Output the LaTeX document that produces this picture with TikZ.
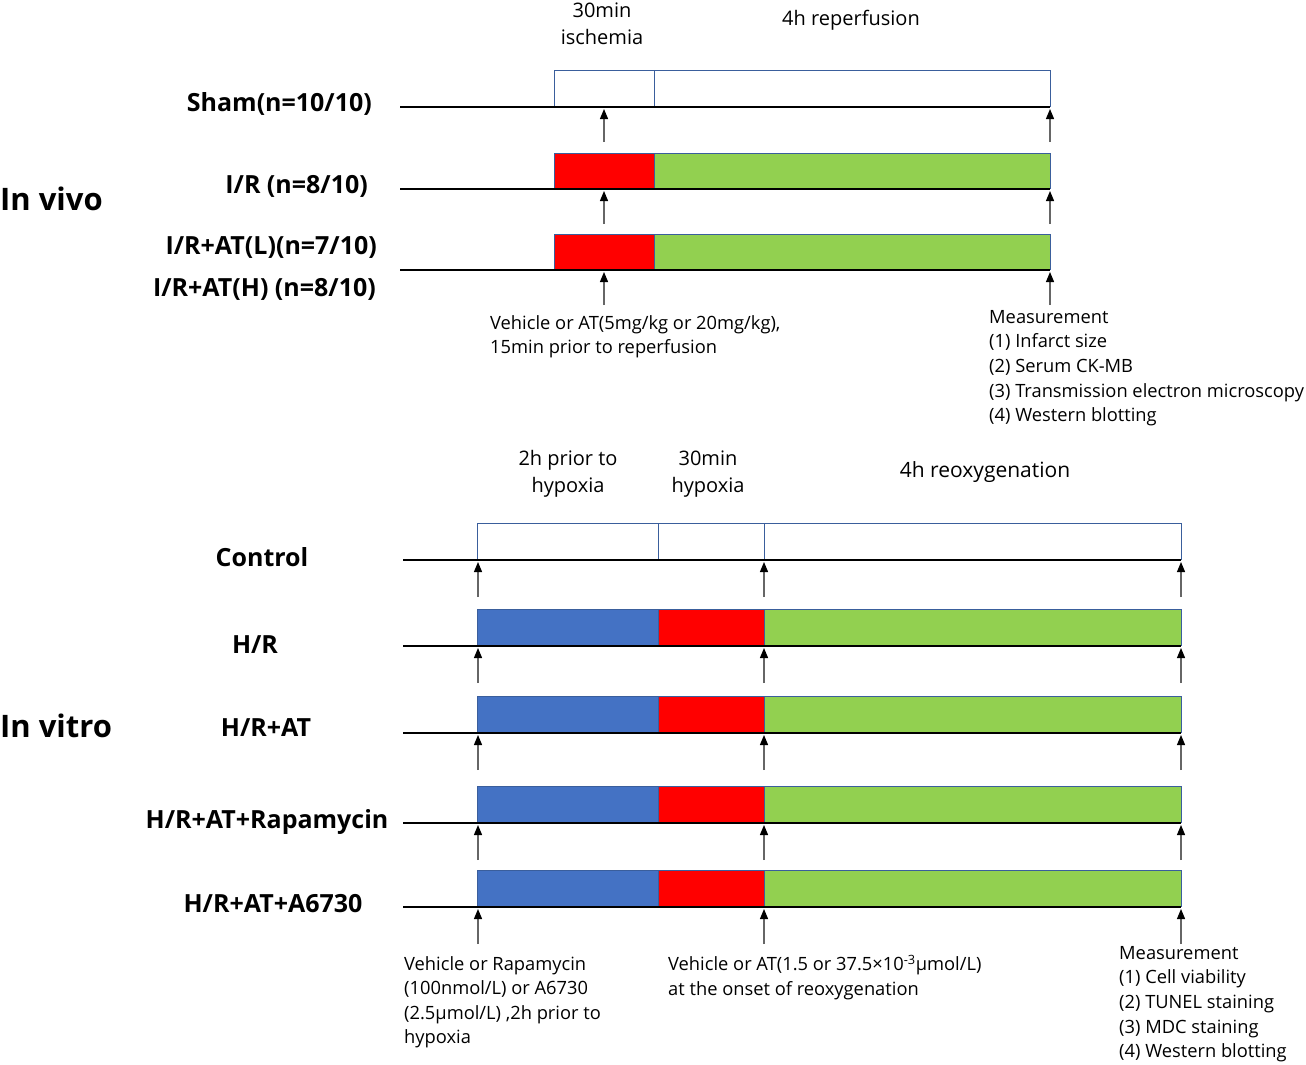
\documentclass[tikz,border=0pt]{standalone}
\usepackage{fontspec}
\setmainfont{Open Sans}
\usetikzlibrary{arrows.meta}
\definecolor{isch}{HTML}{FF0000}
\definecolor{reperf}{HTML}{92D050}
\definecolor{pretreat}{HTML}{4472C4}
\definecolor{edgeblue}{HTML}{3A5E9C}
\begin{document}
\begin{tikzpicture}[x=1pt, y=-1pt,
		axis/.style={line width=2.6pt},
		seg/.style={draw=edgeblue, line width=1pt},
		cue/.style={draw=black!60, line width=1.2pt, -{Triangle[length=10pt, width=8pt, color=black]}},
		grp/.style={font=\fontsize{25}{28}\selectfont\bfseries, inner sep=0pt},
		part/.style={font=\fontsize{31}{36}\selectfont\bfseries, inner sep=0pt, anchor=west},
		phase/.style={font=\fontsize{20}{27}\selectfont, align=center, inner sep=0pt},
		note/.style={font=\fontsize{18.3}{24.6}\selectfont, align=left, inner sep=0pt, anchor=north west}]
	\useasboundingbox (0,0) rectangle (1306,1065);
	% in vivo
	\node[part] (vivo) at (0,199) {In vivo};
	\node[phase] (isc) at (602,24) {30min\\ischemia};
	\node[phase] (rep) at (851,20) {4h reperfusion};
	\foreach \y/\a/\b [count=\i] in {107/white/white, 189/isch/reperf, 270/isch/reperf} {
		\draw[seg, fill=\a] (554,\y-36) rectangle (654,\y-1);
		\draw[seg, fill=\b] (654,\y-36) rectangle (1050,\y-1);
		\draw[axis] (400,\y) -- (1050,\y);
		\coordinate (da\i) at (604,\y+35); \coordinate (db\i) at (604,\y+2);
		\coordinate (ma\i) at (1050,\y+35); \coordinate (mb\i) at (1050,\y+2);
		\draw[cue] (da\i) -- (db\i);
		\draw[cue] (ma\i) -- (mb\i);
	}
	\node[grp, anchor=east] (sham) at (372,104) {Sham(n=10/10)};
	\node[grp, anchor=east] (ir) at (368,186) {I/R (n=8/10)};
	\node[grp, anchor=east] (irl) at (377,247) {I/R+AT(L)(n=7/10)};
	\node[grp, anchor=east] (irh) at (376,289) {I/R+AT(H) (n=8/10)};
	\node[note] (dose) at (490,315) {Vehicle or AT(5mg/kg or 20mg/kg),\\15min prior to reperfusion};
	\node[note] (meas) at (989,310) {Measurement\\(1) Infarct size\\(2) Serum CK-MB\\(3) Transmission electron microscopy\\(4) Western blotting};
	% in vitro
	\node[part] (vitro) at (0,726) {In vitro};
	\node[phase] (pre) at (568,474) {2h prior to\\hypoxia};
	\node[phase] (hyp) at (708,474) {30min\\hypoxia};
	\node[phase, font=\fontsize{21}{27}\selectfont] (reox) at (985,472) {4h reoxygenation};
	\foreach \y/\a/\b/\c [count=\i] in {560/white/white/white, 646/pretreat/isch/reperf, 733/pretreat/isch/reperf,
			823/pretreat/isch/reperf, 907/pretreat/isch/reperf} {
		\draw[seg, fill=\a] (477,\y-37) rectangle (658,\y-1);
		\draw[seg, fill=\b] (658,\y-37) rectangle (764,\y-1);
		\draw[seg, fill=\c] (764,\y-37) rectangle (1181,\y-1);
		\draw[axis] (403,\y) -- (1181,\y);
		\coordinate (pa\i) at (478,\y+37); \coordinate (pb\i) at (478,\y+2);
		\coordinate (oa\i) at (764,\y+37); \coordinate (ob\i) at (764,\y+2);
		\coordinate (ea\i) at (1181,\y+37); \coordinate (eb\i) at (1181,\y+2);
		\draw[cue] (pa\i) -- (pb\i);
		\draw[cue] (oa\i) -- (ob\i);
		\draw[cue] (ea\i) -- (eb\i);
	}
	\node[grp] (ctrl) at (262,557) {Control};
	\node[grp] (hr) at (255,645) {H/R};
	\node[grp] (hrat) at (266,728) {H/R+AT};
	\node[grp] (hrrapa) at (267,822) {H/R+AT+Rapamycin};
	\node[grp] (hra) at (273,904) {H/R+AT+A6730};
	\node[note] (inhib) at (404,956) {Vehicle or Rapamycin\\(100nmol/L) or A6730\\(2.5µmol/L) ,2h prior to\\hypoxia};
	\node[note] (atdose) at (668,955) {Vehicle or AT(1.5 or 37.5×10\textsuperscript{-3}µmol/L)\\at the onset of reoxygenation};
	\node[note] (assay) at (1119,946) {Measurement\\(1) Cell viability\\(2) TUNEL staining\\(3) MDC staining\\(4) Western blotting};
\end{tikzpicture}
\end{document}
